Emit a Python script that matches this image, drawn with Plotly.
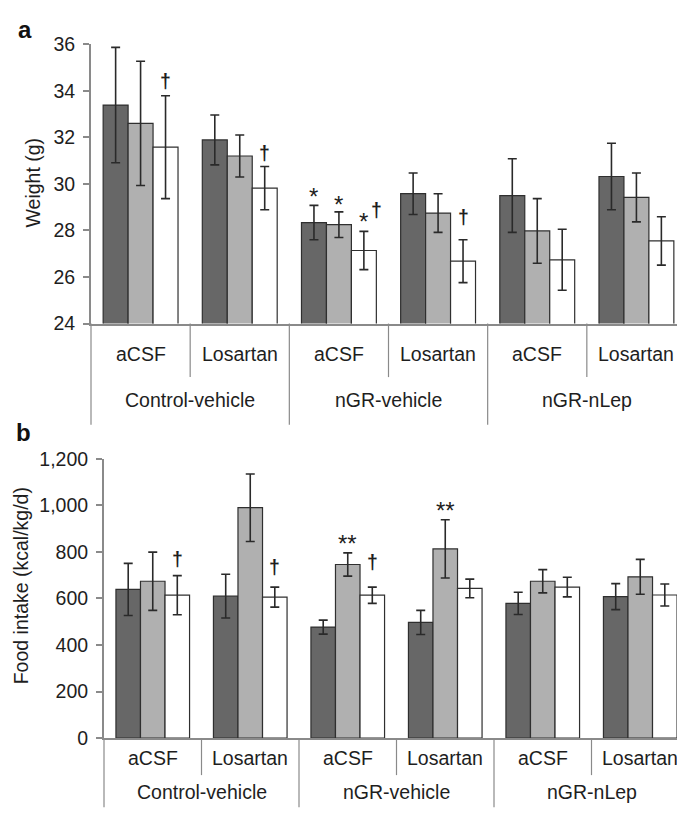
import plotly.graph_objects as go

# ---------------- data ----------------
outer_groups = ["Control-vehicle", "Control-vehicle", "nGR-vehicle", "nGR-vehicle", "nGR-nLep", "nGR-nLep"]
treatments = ["aCSF", "Losartan", "aCSF", "Losartan", "aCSF", "Losartan"]
outer_labels = ["Control-vehicle", "nGR-vehicle", "nGR-nLep"]
series_names = ["Series 1", "Series 2", "Series 3"]

# panel a: weight (g)
weight_s1 = [33.39, 31.89, 28.34, 29.58, 29.50, 30.32]
weight_s1_err = [2.48, 1.07, 0.74, 0.89, 1.58, 1.43]
weight_s2 = [32.60, 31.20, 28.25, 28.75, 27.98, 29.42]
weight_s2_err = [2.67, 0.90, 0.55, 0.83, 1.39, 1.05]
weight_s3 = [31.58, 29.82, 27.14, 26.68, 26.74, 27.55]
weight_s3_err = [2.21, 0.93, 0.82, 0.92, 1.31, 1.04]
weight_ticks = [24, 26, 28, 30, 32, 34, 36]

# panel b: food intake (kcal/kg/d)
intake_s1 = [639, 610, 477, 497, 579, 608]
intake_s1_err = [112, 94, 30, 52, 48, 56]
intake_s2 = [674, 990, 746, 813, 674, 693]
intake_s2_err = [125, 145, 50, 125, 50, 75]
intake_s3 = [614, 606, 614, 643, 649, 615]
intake_s3_err = [84, 43, 35, 40, 42, 47]
intake_ticks = [0, 200, 400, 600, 800, 1000, 1200]

# significance marks: (category index, series index, text, y)
weight_mark_cat = [0, 1, 2, 2, 2, 2, 3]
weight_mark_series = [2, 2, 0, 1, 2, 2, 2]
weight_mark_text = ["†", "†", "*", "*", "*", "†", "†"]
weight_mark_y = [34.44, 31.35, 29.70, 29.38, 28.65, 28.86, 28.56]

intake_mark_cat = [0, 1, 2, 2, 3]
intake_mark_series = [2, 2, 1, 2, 1]
intake_mark_text = ["†", "†", "**", "†", "**"]
intake_mark_y = [769, 734, 862, 755, 1005]

# ---------------- style ----------------
W, H = 685, 818
FONT = "Liberation Sans, Arial, Helvetica, sans-serif"
FS = 19.5
TXT = "#1e1e1e"
AXC = "#8a8a8a"
colors = ["#676767", "#b0b0b0", "#ffffff"]
BARGAP = 0.245

fig = go.Figure()

panels = [
    dict(xa="x", ya="y",
         vals=[weight_s1, weight_s2, weight_s3],
         errs=[weight_s1_err, weight_s2_err, weight_s3_err]),
    dict(xa="x2", ya="y2",
         vals=[intake_s1, intake_s2, intake_s3],
         errs=[intake_s1_err, intake_s2_err, intake_s3_err]),
]

for p in panels:
    for k in range(3):
        fig.add_trace(go.Bar(
            x=[outer_groups, treatments], y=p["vals"][k], name=series_names[k],
            xaxis=p["xa"], yaxis=p["ya"],
            marker=dict(color=colors[k], line=dict(color="#2f2f2f", width=1.2)),
            error_y=dict(type="data", array=p["errs"][k], visible=True,
                         color="#2a2a2a", thickness=1.6, width=4.5),
            showlegend=False,
        ))

def px2x(px):
    return min(1.0, max(0.0, px / W))

def px2y(py):
    return min(1.0, max(0.0, (H - py) / H))

# plot-area pixel boxes (left, right, top, bottom)
box_a = (83, 678, 26, 313)
box_b = (96, 681, 452, 739)

axis_common = dict(showgrid=False, zeroline=False, showline=True, linecolor=AXC)

fig.update_layout(
    width=W, height=H,
    margin=dict(l=0, r=0, t=0, b=0),
    paper_bgcolor="white", plot_bgcolor="white",
    barmode="group", bargap=BARGAP, bargroupgap=0,
    font=dict(family=FONT, size=FS, color=TXT),
    xaxis=dict(domain=[px2x(box_a[0]), px2x(box_a[1])], anchor="y", type="multicategory",
               showticklabels=False, ticks="", showdividers=False, linewidth=1.5, **axis_common),
    yaxis=dict(domain=[px2y(box_a[3]), px2y(box_a[2])], anchor="x", range=[24, 36],
               tickvals=weight_ticks, ticks="outside", ticklen=6, tickcolor=AXC, tickwidth=1.5,
               ticklabelstandoff=4,
               linewidth=2, tickfont=dict(size=FS, color=TXT), **axis_common),
    xaxis2=dict(domain=[px2x(box_b[0]), px2x(box_b[1])], anchor="y2", type="multicategory",
                showticklabels=False, ticks="", showdividers=False, linewidth=1.5, **axis_common),
    yaxis2=dict(domain=[px2y(box_b[3]), px2y(box_b[2])], anchor="x2", range=[0, 1200],
                tickvals=intake_ticks, tickformat=",", ticks="outside", ticklen=6, tickcolor=AXC,
                tickwidth=1.5, ticklabelstandoff=4,
                linewidth=2, tickfont=dict(size=FS, color=TXT), **axis_common),
)

shapes = []
annotations = []
n_cat = len(treatments)
n_out = len(outer_labels)
bar_w = (1 - BARGAP) / 3

def cat_axis(xa, ya, box, inner_lab_px, outer_lab_px, inner_sep_px, outer_sep_px):
    h = box[3] - box[2]
    xr, yr = xa + " domain", ya + " domain"
    for i in range(n_cat):
        annotations.append(dict(xref=xr, yref=yr, x=(i + 0.5) / n_cat, y=-inner_lab_px / h,
                                text=treatments[i], showarrow=False, xanchor="center",
                                yanchor="middle", font=dict(size=FS, color=TXT)))
    for i in range(1, n_cat, 2):
        shapes.append(dict(type="line", xref=xr, yref=yr, x0=i / n_cat, x1=i / n_cat,
                           y0=0, y1=-inner_sep_px / h, line=dict(color=AXC, width=1.2)))
    for j in range(n_out):
        annotations.append(dict(xref=xr, yref=yr, x=(j + 0.5) / n_out, y=-outer_lab_px / h,
                                text=outer_labels[j], showarrow=False, xanchor="center",
                                yanchor="middle", font=dict(size=FS, color=TXT)))
    for j in range(n_out + 1):
        shapes.append(dict(type="line", xref=xr, yref=yr, x0=j / n_out, x1=j / n_out,
                           y0=0, y1=-outer_sep_px / h, line=dict(color=AXC, width=1.2)))

cat_axis("x", "y", box_a, 31, 79, 55, 104)
cat_axis("x2", "y2", box_b, 20, 55, 38, 71)

def marks(xa, ya, cats, sers, texts, ys):
    prev = None
    for c, s, t, yv in zip(cats, sers, texts, ys):
        xc = (c + 0.5 + (s - 1) * bar_w) / n_cat
        side = (prev == (c, s))
        star = "*" in t
        annotations.append(dict(xref=xa + " domain", yref=ya, x=xc, y=yv,
                                text=t if star else "<b>" + t + "</b>",
                                showarrow=False, xanchor="center", yanchor="middle",
                                xshift=13 if side else 0,
                                yshift=-6 if star else 0,
                                font=dict(size=24 if star else FS, color=TXT)))
        prev = (c, s)

marks("x", "y", weight_mark_cat, weight_mark_series, weight_mark_text, weight_mark_y)
marks("x2", "y2", intake_mark_cat, intake_mark_series, intake_mark_text, intake_mark_y)

# axis titles
annotations.append(dict(xref="paper", yref="paper", x=px2x(25), y=px2y(168), text="Weight (g)",
                        textangle=-90, showarrow=False, xanchor="center", yanchor="middle",
                        font=dict(size=FS, color=TXT)))
annotations.append(dict(xref="paper", yref="paper", x=px2x(13), y=px2y(583),
                        text="Food intake (kcal/kg/d)", textangle=-90, showarrow=False,
                        xanchor="center", yanchor="middle", font=dict(size=FS, color=TXT)))
# panel letters
annotations.append(dict(xref="paper", yref="paper", x=px2x(17), y=px2y(11), text="<b>a</b>",
                        showarrow=False, xanchor="center", yanchor="middle",
                        font=dict(size=24, color="#111")))
annotations.append(dict(xref="paper", yref="paper", x=px2x(15), y=px2y(425), text="<b>b</b>",
                        showarrow=False, xanchor="center", yanchor="middle",
                        font=dict(size=24, color="#111")))

fig.update_layout(shapes=shapes, annotations=annotations)
fig.write_html("out.html")
